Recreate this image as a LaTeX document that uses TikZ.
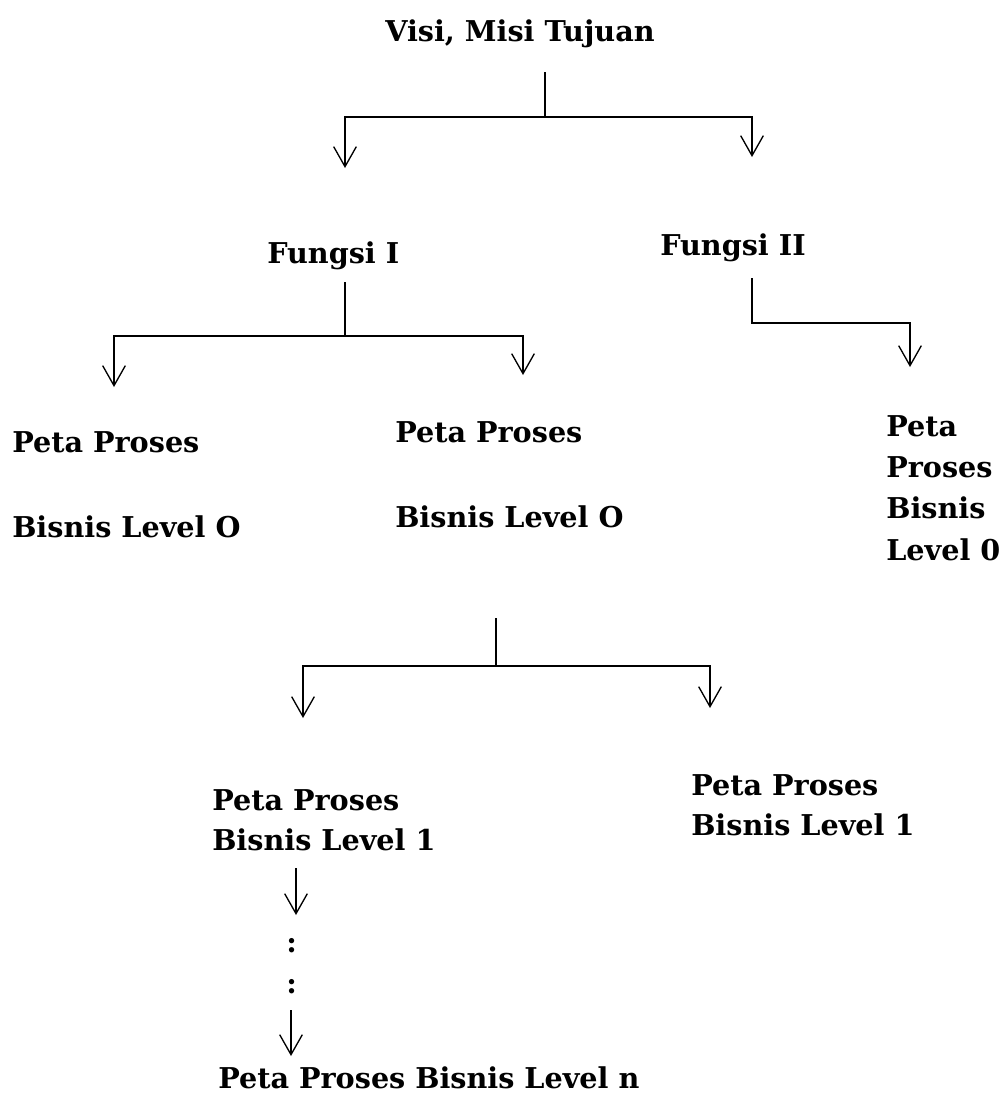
\documentclass[tikz,border=0pt]{standalone}
\usepackage{fontspec}
\setmainfont{DejaVu Serif}
\usetikzlibrary{arrows.meta}
\begin{document}
\begin{tikzpicture}[x=0.75pt,y=-0.75pt,
  lbl/.style={anchor=base west,inner sep=0pt,align=left,font=\bfseries\fontsize{21.5}{31}\selectfont},
  ln/.style={line width=1.4pt},
  arr/.style={ln,-{Straight Barb[length=15pt,width=17pt,line width=1pt]}}]
\useasboundingbox (0,0) rectangle (1007,1096);
% texts (anchor = baseline of last line)
\node[lbl] (title) at (385,41) {Visi, Misi Tujuan};
\node[lbl] (f1) at (267,263) {Fungsi I};
\node[lbl] (f2) at (660,255) {Fungsi II};
\node[lbl] (p1) at (12,537) {Peta Proses\\[32.5pt]Bisnis Level O};
\node[lbl] (p2) at (395,527) {Peta Proses\\[32.5pt]Bisnis Level O};
\node[lbl] (p3) at (886,560) {Peta\\Proses\\Bisnis\\Level 0};
\node[lbl] (q1) at (212,850) {Peta Proses\\[-1pt]Bisnis Level 1};
\node[lbl] (q2) at (691,835) {Peta Proses\\[-1pt]Bisnis Level 1};
\node[lbl] (d1) at (286,952) {:};
\node[lbl] (d2) at (286,993) {:};
\node[lbl] (qn) at (218,1088) {Peta Proses Bisnis Level n};
% connector coordinates
\coordinate (s0) at (545,72);
\coordinate (t1) at (345,168);
\coordinate (t2) at (752,157);
\coordinate (s1) at (345,282);
\coordinate (t11) at (114,387);
\coordinate (t12) at (523,375);
\coordinate (s2) at (752,278);
\coordinate (t21) at (910,367);
\coordinate (s3) at (496,618);
\coordinate (t31) at (303,718);
\coordinate (t32) at (710,708);
\coordinate (u1) at (296,868);
\coordinate (u1t) at (296,915);
\coordinate (u2) at (291,1010);
\coordinate (u2t) at (291,1056);
% connectors
\draw[arr] (s0) -- ++(0,45) -| (t1);
\draw[arr] (s0) -- ++(0,45) -| (t2);
\draw[arr] (s1) -- ++(0,54) -| (t11);
\draw[arr] (s1) -- ++(0,54) -| (t12);
\draw[arr] (s2) -- ++(0,45) -| (t21);
\draw[arr] (s3) -- ++(0,48) -| (t31);
\draw[arr] (s3) -- ++(0,48) -| (t32);
\draw[arr] (u1) -- (u1t);
\draw[arr] (u2) -- (u2t);
\end{tikzpicture}
\end{document}
